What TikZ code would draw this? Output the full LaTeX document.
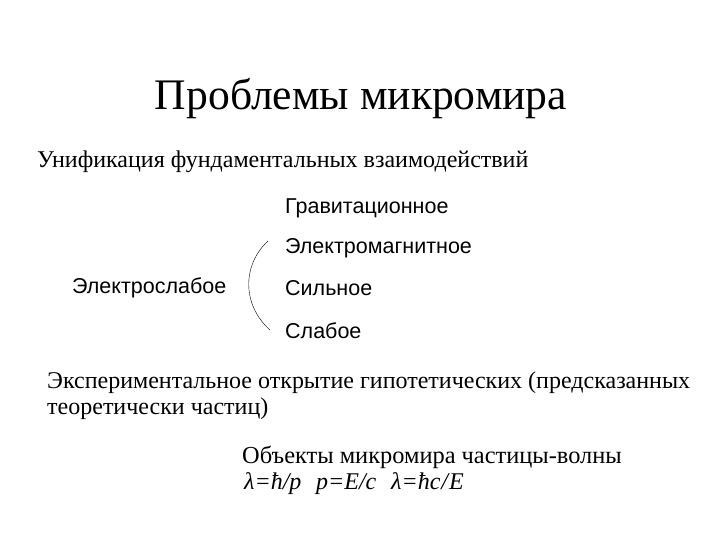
\documentclass[tikz,border=0pt]{standalone}
\usepackage{fontspec}
\setmainfont{Liberation Serif}
\setsansfont{Liberation Sans}
\usetikzlibrary{positioning}
\tikzset{
    serif/.style={anchor=base west, inner sep=0pt, font=\fontsize{24}{28}\selectfont},
    sans/.style={anchor=base west, inner sep=0pt, font=\sffamily\fontsize{21.5}{26}\selectfont},
    formula/.style={anchor=base west, inner sep=0pt, font=\itshape\fontsize{24}{28}\selectfont},
}

\begin{document}
\begin{tikzpicture}[x=1pt, y=-1pt]
    \useasboundingbox (0,0) rectangle (720,540);
    \node[anchor=base, inner sep=0pt, font=\fontsize{43.6}{52}\selectfont](title) at (361,110) {Проблемы микромира};
    \node[serif](unif)              at (37,168)  {Унификация фундаментальных взаимодействий};
    \node[sans](grav)               at (285,214) {Гравитационное};
    \node[sans](em)                 at (285,253) {Электромагнитное};
    \node[sans](ew)                 at (72,293)  {Электрослабое};
    \node[sans](strong)             at (285,295) {Сильное};
    \node[sans](weak)               at (285,338) {Слабое};
    \node[serif](exp1)              at (47,388)  {Экспериментальное открытие гипотетических (предсказанных};
    \node[serif](exp2)              at (47,414)  {теоретически частиц)};
    \node[serif, font=\fontsize{24.4}{28}\selectfont](obj) at (242,463) {Объекты микромира частицы-волны};
    % Formulas
    \node[formula](lam)             at (244,489) {λ=ħ/p};
    \node[formula](mom)             at (316,489) {p=E/c};
    \node[formula](lamE)            at (391,489) {λ=ħc\kern1pt/\kern1pt E};
    % Bracket
    \coordinate (top) at (268,241);
    \coordinate (bot) at (270,330);
    \draw (top) .. controls (242,265) and (242,305) .. (bot);
\end{tikzpicture}
\end{document}
